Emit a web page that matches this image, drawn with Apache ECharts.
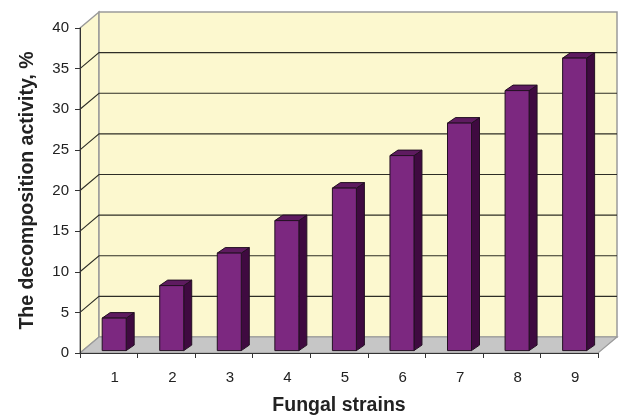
<!DOCTYPE html>
<html>
<head>
<meta charset="utf-8">
<script src="https://cdn.jsdelivr.net/npm/echarts@6/dist/echarts.min.js"></script>
<style>
  html, body { margin: 0; padding: 0; background: #ffffff; }
  #chart { width: 624px; height: 416px; }
</style>
</head>
<body>
<div id="chart"></div>
<script>
// Fungal strain numbers and their decomposition activity (%)
const strains = ['1', '2', '3', '4', '5', '6', '7', '8', '9'];
const activity = [4, 8, 12, 16, 20, 24, 28, 32, 36];
const yTicks = [0, 5, 10, 15, 20, 25, 30, 35, 40];

// pseudo-3D geometry (pixels)
const DEPTH_X = 19, DEPTH_Y = -16;       // wall depth
const BAR_SHIFT_X = 5.4, BAR_SHIFT_Y = -2.4;
const BAR_W = 24, BAR_DX = 8, BAR_DY = -5.5;

const WALL = '#FCF8CF';
const WALL_EDGE = '#9a9a9a';
const FLOOR = '#C6C6C6';
const BAR_FRONT = '#7C2880';
const BAR_TOP = '#5E1B60';
const BAR_SIDE = '#3F0A40';
const BAR_EDGE = '#231022';

const chart = echarts.init(document.getElementById('chart'));

function renderWalls(params, api) {
  const cs = params.coordSys;
  const x0 = cs.x, x1 = cs.x + cs.width;
  const yTop = cs.y, yBot = cs.y + cs.height;
  const children = [];
  // left side wall
  children.push({
    type: 'polygon',
    shape: { points: [[x0, yTop], [x0 + DEPTH_X, yTop + DEPTH_Y], [x0 + DEPTH_X, yBot + DEPTH_Y], [x0, yBot]] },
    style: { fill: WALL, stroke: WALL_EDGE, lineWidth: 1.5 }
  });
  // back wall
  children.push({
    type: 'rect',
    shape: { x: x0 + DEPTH_X, y: yTop + DEPTH_Y, width: cs.width, height: cs.height },
    style: { fill: WALL, stroke: WALL_EDGE, lineWidth: 1.5 }
  });
  // floor
  children.push({
    type: 'polygon',
    shape: { points: [[x0, yBot], [x0 + DEPTH_X, yBot + DEPTH_Y], [x1 + DEPTH_X, yBot + DEPTH_Y], [x1, yBot]] },
    style: { fill: FLOOR, stroke: WALL_EDGE, lineWidth: 1.2 }
  });
  // grid lines on side and back walls
  yTicks.forEach(function (v) {
    if (v === 0 || v === 40) return;
    const y = api.coord([0, v])[1];
    children.push({
      type: 'polyline',
      shape: { points: [[x0, y], [x0 + DEPTH_X, y + DEPTH_Y], [x1 + DEPTH_X, y + DEPTH_Y]] },
      style: { fill: null, stroke: '#2e2e26', lineWidth: 1.1 }
    });
  });
  return { type: 'group', children: children };
}

function renderBar(params, api) {
  const idx = api.value(0);
  const val = api.value(1);
  const top = api.coord([idx, val]);
  const base = api.coord([idx, 0]);
  const cx = top[0] + BAR_SHIFT_X;
  const l = cx - BAR_W / 2, r = cx + BAR_W / 2;
  const yT = top[1] + BAR_SHIFT_Y, yB = base[1] + BAR_SHIFT_Y;
  const stroke = { stroke: BAR_EDGE, lineWidth: 1, lineJoin: 'round' };
  return {
    type: 'group',
    children: [
      {
        type: 'polygon',
        shape: { points: [[r, yT], [r + BAR_DX, yT + BAR_DY], [r + BAR_DX, yB + BAR_DY], [r, yB]] },
        style: Object.assign({ fill: BAR_SIDE }, stroke)
      },
      {
        type: 'polygon',
        shape: { points: [[l, yT], [l + BAR_DX, yT + BAR_DY], [r + BAR_DX, yT + BAR_DY], [r, yT]] },
        style: Object.assign({ fill: BAR_TOP }, stroke)
      },
      {
        type: 'rect',
        shape: { x: l, y: yT, width: BAR_W, height: yB - yT },
        style: Object.assign({ fill: BAR_FRONT }, stroke)
      }
    ]
  };
}

const font = 'Liberation Sans, Arial, sans-serif';

chart.setOption({
  animation: false,
  grid: { left: 80, right: 26, top: 28, bottom: 63, containLabel: false, outerBoundsMode: 'none' },
  xAxis: {
    type: 'category',
    data: strains,
    name: 'Fungal strains',
    nameLocation: 'middle',
    nameGap: 43,
    nameTextStyle: { fontFamily: font, fontSize: 19.5, fontWeight: 'bold', color: '#222' },
    axisLine: { show: true, lineStyle: { color: '#333', width: 1 } },
    axisTick: { show: true, length: 5, lineStyle: { color: '#333' } },
    axisLabel: { fontFamily: font, fontSize: 15, color: '#222', margin: 17, padding: [0, 0, 0, 12] },
    splitLine: { show: false }
  },
  yAxis: {
    type: 'value',
    min: 0,
    max: 40,
    interval: 5,
    name: 'The decomposition activity, %',
    nameLocation: 'middle',
    nameGap: 42,
    nameTextStyle: { fontFamily: font, fontSize: 19.5, fontWeight: 'bold', color: '#222' },
    axisLine: { show: true, lineStyle: { color: '#333', width: 1 } },
    axisTick: { show: true, length: 5, lineStyle: { color: '#333' } },
    axisLabel: { fontFamily: font, fontSize: 15, color: '#222', margin: 11 },
    splitLine: { show: false }
  },
  series: [
    {
      type: 'custom',
      z: -1,
      silent: true,
      renderItem: renderWalls,
      data: [[0, 0]],
      clip: false
    },
    {
      type: 'custom',
      z: 2,
      renderItem: renderBar,
      data: activity.map(function (v, i) { return [i, v]; }),
      encode: { x: 0, y: 1 },
      clip: false
    }
  ]
});
</script>
</body>
</html>
